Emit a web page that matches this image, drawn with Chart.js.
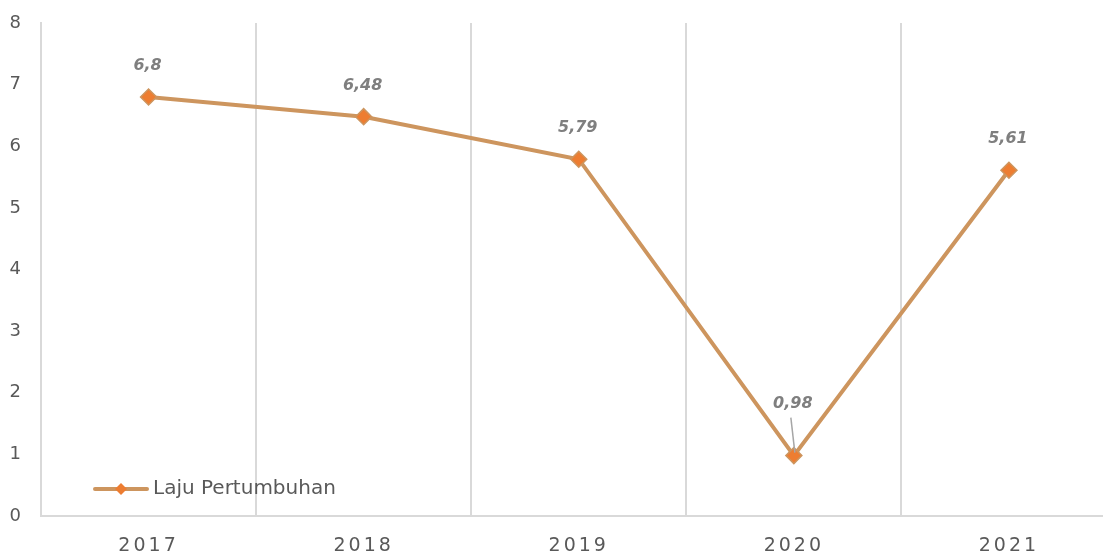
<!DOCTYPE html>
<html>
<head>
<meta charset="utf-8">
<script src="https://cdn.jsdelivr.net/npm/chart.js@4/dist/chart.umd.min.js"></script>
<style>
  html, body { margin: 0; padding: 0; background: #fff; overflow: hidden; }
  #wrap { width: 1126px; height: 554px; }
</style>
</head>
<body>
<div id="wrap"><canvas id="chart" width="1126" height="554"></canvas></div>
<script>
// data
var years = ['2017', '2018', '2019', '2020', '2021'];
var laju = [6.8, 6.48, 5.79, 0.98, 5.61];
var seriesName = 'Laju Pertumbuhan';
var yTicks = [0, 1, 2, 3, 4, 5, 6, 7, 8];

var lineColor = '#cd955e';
var markColor = '#ed7d31';
var gridColor = '#d9d9d9';
var textColor = '#595959';
var fontName = '"DejaVu Sans", sans-serif';

// value labels above the points, 2020 one pushed up with a leader line
var labelPlugin = {
    id: 'pointLabels',
    afterDatasetsDraw: function(chart){
        var ctx = chart.ctx;
        var meta = chart.getDatasetMeta(0);
        ctx.save();
        ctx.font = 'italic bold 16px ' + fontName;
        ctx.fillStyle = '#7f7f7f';
        ctx.textAlign = 'center';
        ctx.textBaseline = 'middle';
        for(var i=0; i<meta.data.length; i++){
            var p = meta.data[i];
            var up = (i == 3) ? 52 : 31;
            var txt = String(laju[i]).replace('.', ',');
            ctx.fillText(txt, p.x - 1, p.y - up);
            if(i == 3){
                ctx.strokeStyle = '#a6a6a6';
                ctx.lineWidth = 1.5;
                ctx.beginPath();
                ctx.moveTo(p.x - 3, p.y - up + 14);
                ctx.lineTo(p.x + 1, p.y - 3);
                ctx.stroke();
            }
        }
        ctx.restore();
    }
};

// legend inside plot area, bottom left
var legendPlugin = {
    id: 'innerLegend',
    afterDraw: function(chart){
        var ctx = chart.ctx;
        var a = chart.chartArea;
        var x = a.left + 54, y = a.bottom - 27;
        ctx.save();
        ctx.strokeStyle = lineColor;
        ctx.lineWidth = 4;
        ctx.lineCap = 'round';
        ctx.beginPath();
        ctx.moveTo(x, y);
        ctx.lineTo(x + 52, y);
        ctx.stroke();
        ctx.fillStyle = markColor;
        ctx.beginPath();
        ctx.moveTo(x + 26, y - 6);
        ctx.lineTo(x + 32, y);
        ctx.lineTo(x + 26, y + 6);
        ctx.lineTo(x + 20, y);
        ctx.closePath();
        ctx.fill();
        ctx.font = '20px ' + fontName;
        ctx.fillStyle = textColor;
        ctx.textBaseline = 'middle';
        ctx.fillText(seriesName, x + 58, y);
        ctx.restore();
    }
};

// spaced-out year labels
var spacingPlugin = {
    id: 'xSpacing',
    afterLayout: function(chart){
        var s = chart.scales.x;
        if(s._spaced) return;
        var orig = s.drawLabels.bind(s);
        s.drawLabels = function(area){
            chart.ctx.save();
            chart.ctx.letterSpacing = '3px';
            orig(area);
            chart.ctx.restore();
        };
        s._spaced = true;
    }
};

var ctx = document.getElementById('chart').getContext('2d');
var myChart = new Chart(ctx, {
    type: 'line',
    data: {
        labels: years,
        datasets: [{
            label: seriesName,
            data: laju,
            borderColor: lineColor,
            borderWidth: 4,
            tension: 0,
            pointStyle: 'rectRot',
            pointRadius: 8,
            pointBackgroundColor: markColor,
            pointBorderColor: lineColor,
            pointBorderWidth: 1.5
        }]
    },
    options: {
        responsive: false,
        animation: false,
        layout: { padding: { top: 23, right: 0, left: 0, bottom: 0 } },
        plugins: {
            legend: { display: false },
            tooltip: { enabled: false }
        },
        scales: {
            x: {
                offset: true,
                grid: { display: true, offset: true, color: gridColor, lineWidth: 2, drawTicks: false },
                border: { display: true, color: gridColor, width: 2 },
                ticks: { color: textColor, font: { family: fontName, size: 19 }, padding: 19 },
                afterFit: function(s){ s.height = 38; }
            },
            y: {
                min: 0,
                max: 8,
                afterBuildTicks: function(s){ s.ticks = yTicks.map(function(v){ return { value: v }; }); },
                grid: { display: false, tickLength: 20 },
                border: { display: true, color: gridColor, width: 2 },
                ticks: { color: textColor, font: { family: fontName, size: 18 }, padding: 0 },
                afterFit: function(s){ s.width = 41; }
            }
        }
    },
    plugins: [labelPlugin, legendPlugin, spacingPlugin]
});
</script>
</body>
</html>
